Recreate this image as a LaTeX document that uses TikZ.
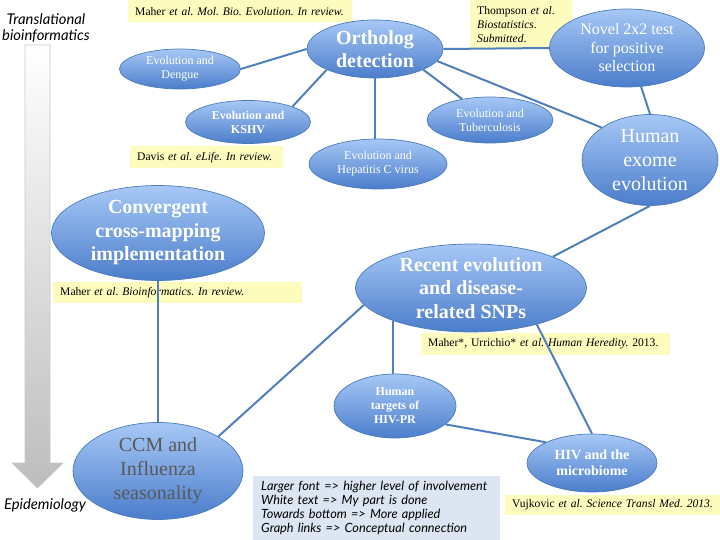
\documentclass[tikz,border=0pt]{standalone}
\usepackage{fontspec}
\setmainfont{Liberation Serif}
\newfontfamily\notefont{Lato}
\usepackage{tikz}
\usetikzlibrary{shapes.geometric}
\definecolor{topiclight}{HTML}{A7C8F6}
\definecolor{topicdark}{HTML}{4B7DCB}
\definecolor{topicedge}{HTML}{4A7CBA}
\definecolor{linkblue}{HTML}{4F7FBC}
\definecolor{pending}{HTML}{595959}
\definecolor{refyellow}{HTML}{FDFBBD}
\definecolor{legendblue}{HTML}{DCE6F2}
\definecolor{arrowgray}{HTML}{BDBDBD}
\definecolor{arrowedge}{HTML}{C8C8C8}
\tikzset{
  topic/.style={ellipse, draw=topicedge, line width=0.7pt, top color=topiclight,
    bottom color=topicdark, text=white, align=center, inner sep=0pt},
  huge/.style={font=\fontsize{20}{24}\selectfont},
  hugebold/.style={font=\fontsize{20}{23.5}\selectfont\bfseries},
  mid/.style={font=\fontsize{16}{18.5}\selectfont},
  midbold/.style={font=\fontsize{14}{16}\selectfont\bfseries},
  small/.style={font=\fontsize{12}{14}\selectfont},
  smallbold/.style={font=\fontsize{12}{14}\selectfont\bfseries},
  linkline/.style={draw=linkblue, line width=2pt},
  refbox/.style={fill=refyellow, anchor=north west, inner xsep=7pt, inner ysep=0pt,
    align=left, font=\fontsize{11.6}{14}\selectfont},
  axislbl/.style={font=\notefont\itshape\fontsize{14.8}{16}\selectfont, align=center},
  arrowbody/.style={draw=arrowedge, line width=0.6pt, top color=white, bottom color=arrowgray}
}

\begin{document}
\frenchspacing
\begin{tikzpicture}[x=1pt, y=-1pt]
  \useasboundingbox (0,0) rectangle (720,540);

  % axis from research to application
  \path[arrowbody] (25,45) -- (50,45) -- (50,463) -- (63,463) -- (37.5,488)
    -- (12,463) -- (25,463) -- cycle;
  \node[axislbl] (toplbl) at (46,28) {Translational\\bioinformatics};
  \node[axislbl] (botlbl) at (45,505) {Epidemiology};

  % publications
  \node[refbox, text width=210, minimum height=22] (refmol) at (128,0)
    {\mbox{Maher \textit{et al. Mol. Bio. Evolution. In review.}}};
  \node[refbox, text width=88, minimum height=48] (refthomp) at (470,0)
    {Thompson \textit{et al}.\\\textit{Biostatistics}.\\\textit{Submitted}.};
  \node[refbox, text width=139, minimum height=22] (refdavis) at (130,146)
    {\mbox{Davis \textit{et al. eLife. In review.}}};
  \node[refbox, text width=235, minimum height=21] (refbioinf) at (53,282)
    {\mbox{Maher \textit{et al}. \textit{Bioinformatics. In review.}}};
  \node[refbox, text width=235, minimum height=22] (refhered) at (421,333)
    {\mbox{Maher*, Urrichio* \textit{et al. Human Heredity.} 2013.}};
  \node[refbox, text width=201, minimum height=20] (refvuj) at (505,495)
    {\mbox{Vujkovic \textit{et al. Science Transl Med. 2013.}}};

  % legend
  \node[fill=legendblue, anchor=north west, text width=231, minimum height=64,
    inner xsep=8pt, inner ysep=0pt, align=left,
    font=\notefont\itshape\fontsize{12.7}{14}\selectfont] (legend) at (253,476)
    {Larger font => higher level of involvement\\
     White text => My part is done\\
     Towards bottom => More applied\\
     Graph links => Conceptual connection};

  % projects
  \node[topic, hugebold, minimum width=136, minimum height=58] (orth) at (375,49)
    {Ortholog\\detection};
  \node[topic, small, minimum width=121, minimum height=40] (dengue) at (180,69)
    {Evolution and\\Dengue};
  \node[topic, smallbold, minimum width=125, minimum height=43] (kshv) at (248,122)
    {Evolution and\\KSHV};
  \node[topic, small, minimum width=138, minimum height=50] (hepc) at (378,164)
    {Evolution and\\Hepatitis C virus};
  \node[topic, small, minimum width=126, minimum height=46] (tb) at (490,120)
    {Evolution and\\Tuberculosis};
  \node[topic, mid, minimum width=155, minimum height=78] (novel) at (627,48)
    {Novel 2x2 test\\for positive\\selection};
  \node[topic, huge, minimum width=136, minimum height=91, inner ysep=-2.5pt] (exome) at (650,160)
    {Human\\exome\\evolution};
  \node[topic, hugebold, minimum width=213, minimum height=95, inner ysep=-2pt] (ccmimp) at (158,233)
    {Convergent\\cross-mapping\\implementation};
  \node[topic, hugebold, minimum width=231, minimum height=88, inner ysep=-2pt] (snps) at (471,288)
    {Recent evolution\\and disease-\\related SNPs};
  \node[topic, smallbold, minimum width=122, minimum height=64] (hivpr) at (395,406)
    {Human\\targets of\\HIV-PR};
  \node[topic, midbold, minimum width=130, minimum height=58] (micro) at (592,463)
    {HIV and the\\microbiome};
  \node[topic, huge, text=pending, minimum width=170, minimum height=97] (flu) at (158,471)
    {CCM and\\Influenza\\seasonality};

  % links
  \draw[linkline] (dengue.east) -- (orth.west);
  \draw[linkline] (kshv.north east) -- (orth.south west);
  \draw[linkline] (orth.south) -- (orth.south |- hepc.north);
  \draw[linkline] (orth.south east) -- (tb);
  \draw[linkline] (orth.east) -- (novel.west);
  \draw[linkline] (orth.-11) -- (exome.north west);
  \draw[linkline] (novel.-70) -- (exome.north);
  \draw[linkline] (snps.north east) -- (exome.south);
  \draw[linkline] (flu.north east) -- (snps.189);
  \draw[linkline] (snps.203) -- (snps.203 |- hivpr.north);
  \draw[linkline] (snps.-29) -- (micro.north);
  \draw[linkline] (hivpr.-20) -- (micro.north west);
  \draw[linkline] (ccmimp.south) -- (flu.north);
\end{tikzpicture}
\end{document}
